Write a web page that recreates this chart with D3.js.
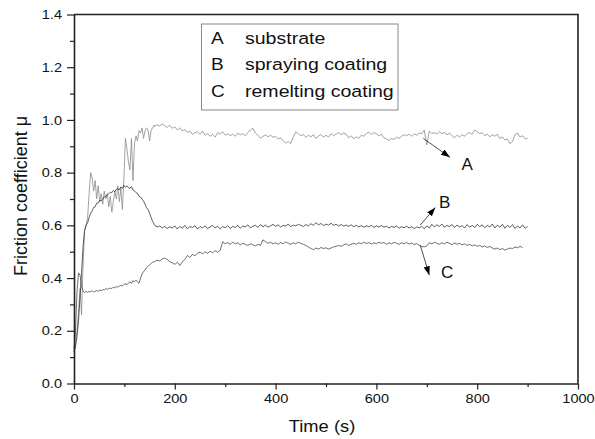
<!DOCTYPE html>
<html>
<head>
<meta charset="utf-8">
<script src="https://cdn.jsdelivr.net/npm/d3@7"></script>
<style>
  html, body { margin: 0; padding: 0; background: #fff; }
  svg { display: block; font-family: "Liberation Sans", Arial, sans-serif; }
</style>
</head>
<body>
<div id="chart"></div>
<script>
// friction coefficient vs time, three samples
// first 159 s sampled every 3 s, after that every 5 s from 160 s
const earlyTime = d3.range(0, 160, 3);
const lateStart = 160, lateStep = 5;

const seriesNames = ["substrate", "spraying coating", "remelting coating"];
const seriesKeys = ["A", "B", "C"];

const substrateEarly = [0.12,0.15,0.20,0.27,0.36,0.26,0.45,0.58,0.60,0.63,
  0.72,0.80,0.78,0.73,0.77,0.70,0.75,0.69,0.72,0.68,
  0.73,0.70,0.72,0.67,0.71,0.65,0.69,0.73,0.70,0.75,
  0.69,0.74,0.66,0.78,0.93,0.89,0.84,0.81,0.93,0.77,
  0.91,0.94,0.92,0.96,0.95,0.97,0.93,0.96,0.97,0.96,
  0.92,0.96,0.97,0.98];
const substrateLate = [0.975,0.982,0.976,0.985,0.978,0.972,0.98,0.968,0.974,0.962,
  0.97,0.958,0.964,0.952,0.958,0.945,0.952,0.955,0.946,0.958,
  0.942,0.948,0.938,0.945,0.935,0.952,0.946,0.955,0.942,0.948,
  0.94,0.946,0.938,0.95,0.943,0.948,0.94,0.952,0.962,0.968,
  0.95,0.942,0.93,0.938,0.944,0.936,0.942,0.934,0.938,0.928,
  0.932,0.92,0.912,0.918,0.91,0.935,0.955,0.948,0.94,0.945,
  0.934,0.942,0.936,0.944,0.93,0.938,0.945,0.934,0.942,0.935,
  0.948,0.94,0.946,0.952,0.944,0.95,0.946,0.932,0.94,0.928,
  0.936,0.93,0.942,0.938,0.948,0.954,0.945,0.952,0.948,0.94,
  0.946,0.932,0.928,0.922,0.93,0.926,0.934,0.93,0.938,0.944,
  0.94,0.946,0.938,0.948,0.942,0.95,0.948,0.962,0.905,0.958,
  0.948,0.952,0.946,0.955,0.948,0.952,0.944,0.95,0.94,0.932,
  0.942,0.935,0.944,0.938,0.948,0.952,0.945,0.962,0.955,0.948,
  0.952,0.94,0.946,0.936,0.944,0.938,0.946,0.93,0.935,0.924,
  0.928,0.91,0.918,0.945,0.95,0.935,0.94,0.928,0.93];

const sprayingEarly = [0.12,0.14,0.18,0.24,0.33,0.42,0.52,0.58,0.60,0.61,
  0.63,0.645,0.655,0.668,0.67,0.684,0.685,0.695,0.693,0.70,
  0.708,0.71,0.716,0.72,0.726,0.724,0.732,0.728,0.737,0.74,
  0.734,0.746,0.74,0.752,0.744,0.75,0.743,0.74,0.747,0.734,
  0.731,0.724,0.721,0.71,0.707,0.70,0.692,0.68,0.667,0.66,
  0.645,0.63,0.615,0.605];
const sprayingLate = [0.60,0.594,0.598,0.59,0.596,0.588,0.595,0.59,0.598,0.586,
  0.596,0.589,0.6,0.587,0.595,0.592,0.599,0.586,0.596,0.59,
  0.598,0.588,0.594,0.6,0.59,0.597,0.586,0.595,0.591,0.599,
  0.588,0.596,0.592,0.6,0.589,0.598,0.594,0.602,0.59,0.597,
  0.6,0.592,0.603,0.595,0.601,0.593,0.598,0.604,0.596,0.602,
  0.594,0.6,0.597,0.605,0.595,0.601,0.598,0.604,0.6,0.596,
  0.603,0.598,0.606,0.6,0.61,0.602,0.607,0.599,0.605,0.601,
  0.608,0.6,0.604,0.598,0.603,0.597,0.601,0.596,0.602,0.595,
  0.6,0.594,0.599,0.593,0.598,0.595,0.6,0.592,0.598,0.594,
  0.599,0.593,0.597,0.59,0.596,0.592,0.598,0.589,0.595,0.591,
  0.597,0.59,0.595,0.588,0.594,0.591,0.596,0.587,0.598,0.59,
  0.604,0.594,0.602,0.596,0.605,0.593,0.6,0.595,0.603,0.592,
  0.601,0.594,0.599,0.59,0.603,0.593,0.6,0.592,0.604,0.595,
  0.602,0.591,0.6,0.594,0.605,0.59,0.601,0.593,0.604,0.589,
  0.6,0.592,0.603,0.588,0.598,0.59,0.602,0.589,0.596];

const remeltingEarly = [0.13,0.20,0.35,0.42,0.41,0.37,0.35,0.345,0.35,0.345,
  0.35,0.348,0.352,0.347,0.35,0.353,0.349,0.355,0.352,0.356,
  0.355,0.36,0.357,0.36,0.362,0.36,0.366,0.363,0.368,0.365,
  0.37,0.372,0.37,0.376,0.378,0.375,0.382,0.385,0.38,0.39,
  0.386,0.392,0.385,0.38,0.40,0.415,0.425,0.43,0.44,0.445,
  0.45,0.455,0.46,0.462];
const remeltingLate = [0.462,0.468,0.465,0.472,0.476,0.47,0.462,0.458,0.452,0.46,
  0.448,0.462,0.47,0.486,0.478,0.49,0.485,0.494,0.498,0.492,
  0.5,0.494,0.502,0.496,0.504,0.498,0.505,0.538,0.53,0.535,
  0.528,0.536,0.53,0.534,0.526,0.532,0.528,0.524,0.53,0.526,
  0.522,0.528,0.524,0.545,0.538,0.532,0.536,0.53,0.534,0.528,
  0.535,0.53,0.537,0.532,0.528,0.534,0.53,0.536,0.532,0.528,
  0.524,0.518,0.512,0.508,0.514,0.51,0.516,0.512,0.515,0.51,
  0.514,0.518,0.52,0.524,0.52,0.526,0.53,0.524,0.528,0.532,
  0.528,0.534,0.53,0.536,0.531,0.535,0.529,0.534,0.53,0.536,
  0.532,0.535,0.528,0.534,0.53,0.536,0.532,0.528,0.534,0.53,
  0.535,0.529,0.533,0.527,0.531,0.524,0.52,0.518,0.522,0.534,
  0.53,0.536,0.532,0.528,0.534,0.53,0.536,0.532,0.527,0.533,
  0.528,0.532,0.526,0.53,0.524,0.528,0.522,0.526,0.52,0.524,
  0.518,0.522,0.516,0.52,0.514,0.51,0.514,0.508,0.512,0.506,
  0.51,0.514,0.512,0.518,0.515,0.52,0.516];

const xTicks = [0, 200, 400, 600, 800, 1000];
const yTicks = [0, 0.2, 0.4, 0.6, 0.8, 1.0, 1.2, 1.4];

// arrow callouts: [time, mu] for start, arrow tip and label
const callouts = [
  {key: "A", from: [693, 0.93], to: [746, 0.858], text: [769, 0.81]},
  {key: "B", from: [687, 0.601], to: [717, 0.668], text: [724, 0.667]},
  {key: "C", from: [687, 0.525], to: [705, 0.411], text: [728, 0.40]}
];

function toPoints(early, late) {
  const pts = early.map((v, i) => [earlyTime[i], v]);
  late.forEach((v, i) => pts.push([lateStart + i * lateStep, v]));
  return pts;
}

const series = [
  {key: "A", color: "#8a8a8a", pts: toPoints(substrateEarly, substrateLate)},
  {key: "B", color: "#333", pts: toPoints(sprayingEarly, sprayingLate)},
  {key: "C", color: "#4a4a4a", pts: toPoints(remeltingEarly, remeltingLate)}
];

const W = 595, H = 439;
const plotL = 74, plotR = 578, plotT = 14.5, plotB = 383.5;
const ink = "#111";

const x = d3.scaleLinear().domain([0, 1000]).range([plotL, plotR]);
const y = d3.scaleLinear().domain([0, 1.4]).range([plotB, plotT]);

const svg = d3.select("#chart").append("svg")
  .attr("width", W).attr("height", H)
  .attr("viewBox", [0, 0, W, H]);

// the original's type is a bit wider than Arial, stretch it sideways
function label(px, py, txt, size, sx, anchor) {
  return svg.append("text")
    .attr("transform", `translate(${px},${py}) scale(${sx},1)`)
    .attr("text-anchor", anchor || "start")
    .attr("font-size", size).attr("fill", ink)
    .text(txt);
}

svg.append("defs").append("marker")
  .attr("id", "head")
  .attr("viewBox", "0 0 10 10")
  .attr("refX", 10).attr("refY", 5)
  .attr("markerWidth", 9).attr("markerHeight", 9)
  .attr("markerUnits", "userSpaceOnUse")
  .attr("orient", "auto")
  .append("path").attr("d", "M0,1.5 L10,5 L0,8.5 Z").attr("fill", "#000");

// curves
const line = d3.line().x(d => x(d[0])).y(d => y(d[1]));
svg.append("g").selectAll("path")
  .data(series)
  .join("path")
  .attr("d", d => line(d.pts))
  .attr("fill", "none")
  .attr("stroke", d => d.color)
  .attr("stroke-width", 0.8)
  .attr("stroke-linejoin", "round");

// minor ticks first, then the main axes
svg.append("g")
  .attr("transform", `translate(0,${plotB})`)
  .call(d3.axisBottom(x).tickValues(d3.range(100, 1000, 200)).tickSize(3.5).tickFormat(""))
  .call(g => g.select(".domain").remove())
  .call(g => g.selectAll("line").attr("stroke", "#222").attr("stroke-width", 1.2));
svg.append("g")
  .attr("transform", `translate(${plotL},0)`)
  .call(d3.axisLeft(y).tickValues(d3.range(0.1, 1.4, 0.2)).tickSize(4).tickFormat(""))
  .call(g => g.select(".domain").remove())
  .call(g => g.selectAll("line").attr("stroke", "#222").attr("stroke-width", 1.2));

const tickSx = 1.12;
const xAxis = svg.append("g")
  .attr("transform", `translate(0,${plotB})`)
  .call(d3.axisBottom(x).tickValues(xTicks).tickSize(6).tickPadding(4).tickFormat(d3.format("d")).tickSizeOuter(0));
const yAxis = svg.append("g")
  .attr("transform", `translate(${plotL},0)`)
  .call(d3.axisLeft(y).tickValues(yTicks).tickSize(7).tickPadding(4).tickFormat(d3.format(".1f")).tickSizeOuter(0));

[xAxis, yAxis].forEach(g => {
  g.select(".domain").attr("stroke", "#222").attr("stroke-width", 1.6);
  g.selectAll(".tick line").attr("stroke", "#222").attr("stroke-width", 1.2);
  g.selectAll(".tick text").attr("fill", ink).attr("font-size", 13)
    .attr("font-family", "'Liberation Sans', Arial, sans-serif")
    .attr("transform", `scale(${tickSx},1)`);
});
yAxis.selectAll(".tick text").attr("x", -12 / tickSx);

// frame: top and right edges
svg.append("path")
  .attr("d", `M${plotL},${plotT}H${plotR}V${plotB}`)
  .attr("fill", "none").attr("stroke", "#222").attr("stroke-width", 1.6);

// axis titles
label(322, 432, "Time (s)", 17, 1.08, "middle");
svg.append("text")
  .attr("transform", `translate(27,196) rotate(-90)`)
  .attr("text-anchor", "middle").attr("font-size", 18).attr("fill", ink)
  .text("Friction coefficient μ");

// legend box
svg.append("rect")
  .attr("x", 201.5).attr("y", 24).attr("width", 196.5).attr("height", 86)
  .attr("fill", "#fff").attr("stroke", "#888").attr("stroke-width", 1);
seriesKeys.forEach((k, i) => {
  const yy = 43.5 + i * 26.6;
  label(211, yy, k, 17, 1.12);
  label(245, yy, seriesNames[i], 17, 1.15);
});

// callout arrows
const ann = svg.append("g").selectAll("g").data(callouts).join("g");
ann.append("line")
  .attr("x1", d => x(d.from[0])).attr("y1", d => y(d.from[1]))
  .attr("x2", d => x(d.to[0])).attr("y2", d => y(d.to[1]))
  .attr("stroke", "#222").attr("stroke-width", 0.8)
  .attr("marker-end", "url(#head)");
callouts.forEach(d => label(x(d.text[0]), y(d.text[1]), d.key, 17, 1.0));
</script>
</body>
</html>
